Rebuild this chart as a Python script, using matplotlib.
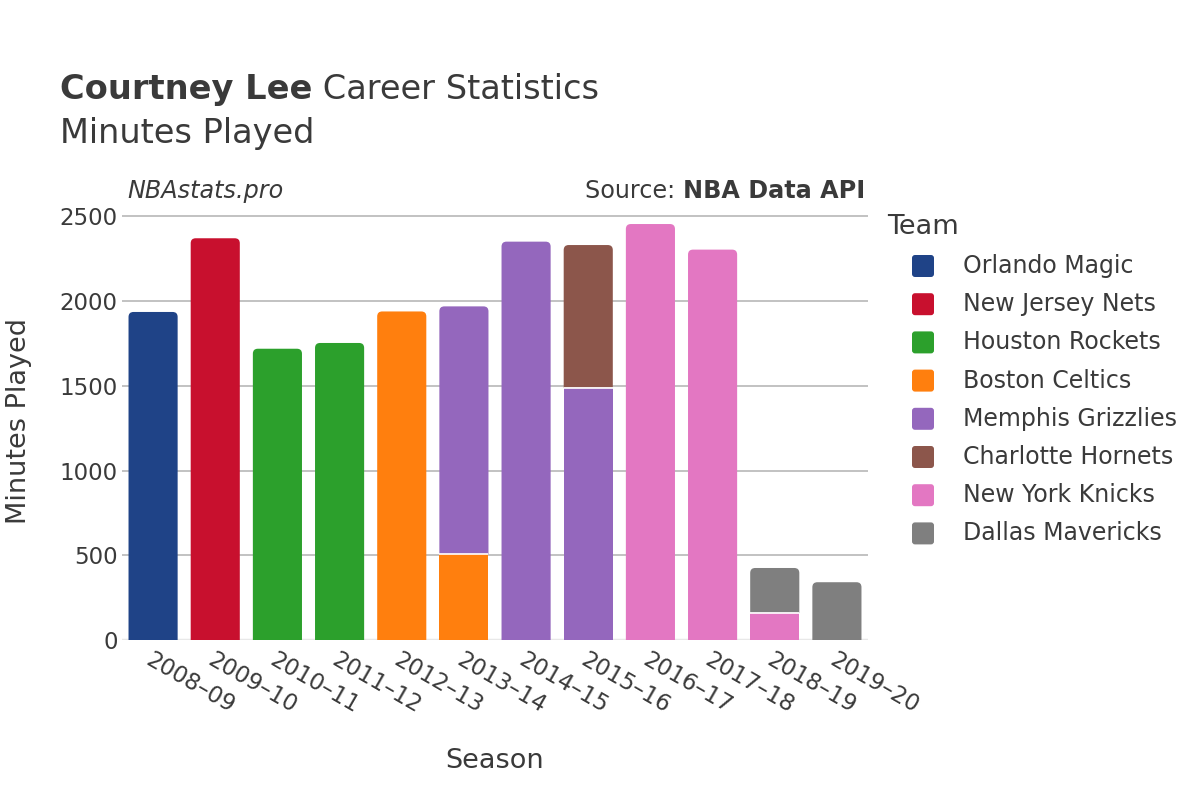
import matplotlib
matplotlib.use("Agg")
import matplotlib.pyplot as plt
from matplotlib.patches import FancyBboxPatch, PathPatch
from matplotlib.path import Path

seasons = ["2008–09", "2009–10", "2010–11", "2011–12", "2012–13", "2013–14",
           "2014–15", "2015–16", "2016–17", "2017–18", "2018–19", "2019–20"]
teams = ["Orlando Magic", "New Jersey Nets", "Houston Rockets", "Boston Celtics",
         "Memphis Grizzlies", "Charlotte Hornets", "New York Knicks", "Dallas Mavericks"]
colors = ["#1f4387", "#c8102e", "#2ca02c", "#ff7f0e",
          "#9467bd", "#8c564b", "#e377c2", "#7f7f7f"]
# stacked segments per season: (team, minutes), bottom to top
segments = [
    [("Orlando Magic", 1936)],
    [("New Jersey Nets", 2371)],
    [("Houston Rockets", 1719)],
    [("Houston Rockets", 1753)],
    [("Boston Celtics", 1939)],
    [("Boston Celtics", 508), ("Memphis Grizzlies", 1461)],
    [("Memphis Grizzlies", 2351)],
    [("Memphis Grizzlies", 1490), ("Charlotte Hornets", 841)],
    [("New York Knicks", 2455)],
    [("New York Knicks", 2304)],
    [("New York Knicks", 161), ("Dallas Mavericks", 264)],
    [("Dallas Mavericks", 341)],
]
color_of = dict(zip(teams, colors))
TXT = "#3a3a3a"

W, H = 1200, 800
fig = plt.figure(figsize=(12, 8), dpi=100)
ax_l, ax_r, ax_b, ax_t = 122, 868, 640, 202
ax = fig.add_axes([ax_l / W, 1 - ax_b / H, (ax_r - ax_l) / W, (ax_b - ax_t) / H])
ymax = 2585
ax.set_xlim(-0.5, len(seasons) - 0.5)
ax.set_ylim(0, ymax)

bw = 0.79
px_x = len(seasons) / (ax_r - ax_l)
px_y = ymax / (ax_b - ax_t)
rx, ry = 5 * px_x, 5 * px_y


def bar_path(x0, x1, y0, y1, rounded):
    if not rounded:
        verts = [(x0, y0), (x0, y1), (x1, y1), (x1, y0), (x0, y0)]
        codes = [Path.MOVETO, Path.LINETO, Path.LINETO, Path.LINETO, Path.CLOSEPOLY]
        return Path(verts, codes)
    r_y = min(ry, (y1 - y0))
    verts = [(x0, y0), (x0, y1 - r_y), (x0, y1), (x0 + rx, y1), (x1 - rx, y1),
             (x1, y1), (x1, y1 - r_y), (x1, y0), (x0, y0)]
    codes = [Path.MOVETO, Path.LINETO, Path.CURVE3, Path.CURVE3, Path.LINETO,
             Path.CURVE3, Path.CURVE3, Path.LINETO, Path.CLOSEPOLY]
    return Path(verts, codes)


for i, segs in enumerate(segments):
    bottom = 0
    for j, (team, val) in enumerate(segs):
        c = color_of[team]
        top_seg = (j == len(segs) - 1)
        p = bar_path(i - bw / 2, i + bw / 2, bottom, bottom + val, top_seg)
        ax.add_patch(PathPatch(p, facecolor=c, edgecolor="none", zorder=3))
        if bottom > 0:
            ax.plot([i - bw / 2, i + bw / 2], [bottom, bottom], color="white",
                    lw=1.2, zorder=4, solid_capstyle="butt")
        bottom += val

ax.set_yticks([0, 500, 1000, 1500, 2000, 2500])
ax.grid(axis="y", color="#bdbdbd", lw=1.3, zorder=0)
ax.axhline(0, color="#e8e8e8", lw=2.5, zorder=2)
for s in ax.spines.values():
    s.set_visible(False)
ax.tick_params(axis="y", length=0, labelsize=16.5, colors=TXT, pad=3)
ax.tick_params(axis="x", length=0, labelsize=16.5, colors=TXT, pad=6)
ax.set_xticks(range(len(seasons)))
ax.set_xticklabels(seasons, rotation=-30, ha="left", rotation_mode="anchor")
ax.set_xlabel("Season", fontsize=19.5, color=TXT, labelpad=22)
ax.set_ylabel("Minutes Played", fontsize=19.5, color=TXT, labelpad=20)

# Title
fig.canvas.draw()
rend = fig.canvas.get_renderer()
t1 = fig.text(60 / W, 1 - 99 / H, "Courtney Lee", fontsize=24.2, fontweight="bold",
              color=TXT, va="baseline", ha="left")
bb = t1.get_window_extent(rend)
fig.text(bb.x1 / W, 1 - 99 / H, " Career Statistics", fontsize=24.2, color=TXT,
         va="baseline", ha="left")
fig.text(60 / W, 1 - 143 / H, "Minutes Played", fontsize=24.2, color=TXT,
         va="baseline", ha="left")

fig.text(127 / W, 1 - 198 / H, "NBAstats.pro", fontsize=17.2, style="italic",
         color=TXT, va="baseline", ha="left")
t3 = fig.text(865 / W, 1 - 198 / H, "NBA Data API", fontsize=17.2, fontweight="bold",
              color=TXT, va="baseline", ha="right")
bb3 = t3.get_window_extent(rend)
fig.text(bb3.x0 / W, 1 - 198 / H, "Source: ", fontsize=17.2, color=TXT,
         va="baseline", ha="right")

# Legend (drawn manually to match layout)
fig.text(887 / W, 1 - 227 / H, "Team", fontsize=19.5, color=TXT, va="center", ha="left")
for k, (team, c) in enumerate(zip(teams, colors)):
    yc = 266 + 38.2 * k
    sq = 22
    fig.patches.append(FancyBboxPatch((923 - sq / 2 + 3, H - yc - sq / 2 + 3), sq - 6, sq - 6,
                                      boxstyle="round,pad=3", facecolor=c, edgecolor="none",
                                      transform=None, figure=fig))
    fig.text(963 / W, 1 - yc / H, team, fontsize=17, color=TXT, va="center", ha="left")

fig.savefig("out.png", dpi=100, facecolor="white")
